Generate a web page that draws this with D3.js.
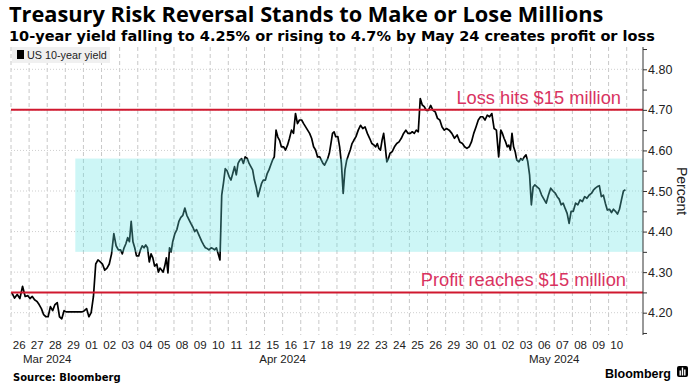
<!DOCTYPE html>
<html>
<head>
<meta charset="utf-8">
<script src="https://cdn.jsdelivr.net/npm/d3@7"></script>
<style>
body { margin: 0; background: #fff; }
svg { display: block; font-family: "Liberation Sans", Arial, sans-serif; }
</style>
</head>
<body>
<div id="container"></div>
<script>
var width = 695, height = 388;

// trading days shown on the axis
var dayLabels = ["26","27","28","29","01","02","03","04","05","08","09","10","11","12","15","16","17","18","19",
	"22","23","24","25","26","29","30","01","02","03","06","07","08","09","10"];
var months = [
	{label: "Mar 2024", first: 0, last: 3},
	{label: "Apr 2024", first: 4, last: 25},
	{label: "May 2024", first: 26, last: 33}
];

// intraday readings of the US 10-year yield, one list per trading day
var yields = [
	[4.249, 4.236, 4.245, 4.235, 4.265, 4.24, 4.242],
	[4.235, 4.24, 4.232, 4.228, 4.22, 4.21, 4.195, 4.19],
	[4.19, 4.215, 4.205, 4.22, 4.225, 4.19, 4.185, 4.205],
	[4.202, 4.202],
	[4.205, 4.21, 4.19, 4.20, 4.24, 4.32, 4.33, 4.325],
	[4.32, 4.305, 4.31, 4.32, 4.345, 4.395, 4.365, 4.355],
	[4.355, 4.345, 4.36, 4.37, 4.385, 4.375, 4.425, 4.375, 4.36, 4.34],
	[4.34, 4.355, 4.365, 4.36, 4.367, 4.36, 4.325, 4.345, 4.335, 4.315],
	[4.32, 4.30, 4.31, 4.305, 4.30, 4.315, 4.335, 4.298, 4.36, 4.35, 4.375],
	[4.395, 4.405, 4.425, 4.435, 4.44, 4.458, 4.44, 4.43, 4.42],
	[4.41, 4.40, 4.405, 4.395, 4.385, 4.375, 4.367, 4.36, 4.358, 4.355],
	[4.36, 4.358, 4.355, 4.36, 4.345, 4.33, 4.49, 4.52, 4.555, 4.55],
	[4.535, 4.527, 4.543, 4.56, 4.54, 4.568, 4.576, 4.58, 4.568, 4.584],
	[4.58, 4.568, 4.56, 4.552, 4.527, 4.51, 4.486, 4.502, 4.518, 4.527],
	[4.527, 4.543, 4.552, 4.564, 4.576, 4.584, 4.65, 4.633, 4.625, 4.609],
	[4.609, 4.601, 4.613, 4.63, 4.65, 4.642, 4.691, 4.666, 4.675],
	[4.675, 4.666, 4.658, 4.65, 4.642, 4.63, 4.609, 4.601, 4.584],
	[4.584, 4.576, 4.568, 4.564, 4.572, 4.58, 4.593, 4.617, 4.642, 4.646, 4.634],
	[4.634, 4.609, 4.568, 4.494, 4.552, 4.576, 4.589, 4.601, 4.617, 4.625],
	[4.634, 4.65, 4.662, 4.654, 4.658, 4.642, 4.63, 4.617],
	[4.613, 4.609, 4.617, 4.605, 4.601, 4.625, 4.642, 4.609, 4.572, 4.58, 4.593],
	[4.597, 4.609, 4.617, 4.621, 4.63, 4.642, 4.65, 4.642],
	[4.642, 4.646, 4.642, 4.65, 4.646, 4.728, 4.712, 4.708, 4.699],
	[4.699, 4.711, 4.699, 4.695, 4.679, 4.675, 4.658, 4.65],
	[4.654, 4.65, 4.642, 4.63, 4.638, 4.621, 4.617],
	[4.609, 4.605, 4.609, 4.621, 4.642, 4.658, 4.675, 4.683],
	[4.683, 4.675, 4.687, 4.683, 4.691, 4.654, 4.65, 4.584],
	[4.65, 4.642, 4.63, 4.621, 4.609, 4.613, 4.601, 4.642, 4.609, 4.597, 4.576],
	[4.572, 4.58, 4.576, 4.584, 4.589, 4.572, 4.54, 4.466, 4.51, 4.515],
	[4.51, 4.505, 4.49, 4.48, 4.47, 4.49, 4.507, 4.50],
	[4.495, 4.486, 4.48, 4.466, 4.47, 4.457, 4.445, 4.42, 4.45],
	[4.45, 4.47, 4.466, 4.478, 4.474, 4.486, 4.482, 4.49],
	[4.494, 4.502, 4.507, 4.511, 4.513, 4.486, 4.49, 4.47, 4.453],
	[4.455, 4.447, 4.455, 4.45, 4.443, 4.455, 4.478, 4.50, 4.503]
];

var yTicks = [4.2, 4.3, 4.4, 4.5, 4.6, 4.7, 4.8];
var levels = [
	{value: 4.70, label: "Loss hits $15 million"},
	{value: 4.25, label: "Profit reaches $15 million"}
];
var zone = {low: 4.35, high: 4.58, start: 3.55};

var xScale = d3.scaleLinear().domain([0, 34.9]).range([11, 643]);
var yScale = d3.scaleLinear().domain([4.145, 4.855]).range([335, 47]);
var plotTop = 47, plotBottom = 335, plotLeft = 11, plotRight = 643;

var points = [];
yields.forEach(function(day, i){
	day.forEach(function(v, j){
		points.push({x: i + 0.05 + 0.88 * j / Math.max(day.length - 1, 1), y: v});
	});
});

var line = d3.line()
	.x(function(d){ return xScale(d.x); })
	.y(function(d){ return yScale(d.y); });

// shrink or grow a text's font so it spans the wanted width
var fitText = function(sel, w){
	var size = +sel.attr('font-size');
	var len = sel.node().getComputedTextLength();
	sel.attr('font-size', size * w / len);
};

function visualize() {
	var svg = d3.select('#container').append('svg')
		.attr('width', width)
		.attr('height', height);

	svg.append('text').attr('x', 9).attr('y', 22)
		.attr('font-family', '"Open Sans", sans-serif')
		.attr('font-size', 21).attr('font-weight', 'bold').attr('fill', '#000')
		.text('Treasury Risk Reversal Stands to Make or Lose Millions')
		.call(fitText, 595);
	svg.append('text').attr('x', 9).attr('y', 41)
		.attr('font-family', '"DejaVu Sans", Verdana, sans-serif')
		.attr('font-size', 15).attr('font-weight', 'bold').attr('fill', '#000')
		.text('10-year yield falling to 4.25% or rising to 4.7% by May 24 creates profit or loss')
		.call(fitText, 646);

	// vertical dashed grid, one per trading day
	svg.append('g').selectAll('line').data(d3.range(0, 35)).enter()
		.append('line')
		.attr('x1', function(d){ return xScale(d); })
		.attr('x2', function(d){ return xScale(d); })
		.attr('y1', plotTop).attr('y2', plotBottom)
		.attr('stroke', '#c8c8c8').attr('stroke-dasharray', '4,3');

	// horizontal dotted grid
	svg.append('g').selectAll('line').data(yTicks).enter()
		.append('line')
		.attr('x1', plotLeft).attr('x2', plotRight)
		.attr('y1', function(d){ return yScale(d); })
		.attr('y2', function(d){ return yScale(d); })
		.attr('stroke', '#cfcfcf').attr('stroke-dasharray', '1,2');

	svg.append('path')
		.attr('d', line(points))
		.attr('stroke', '#000')
		.attr('stroke-width', 1.7)
		.attr('stroke-linejoin', 'round')
		.attr('fill', 'none');

	svg.append('rect')
		.attr('x', xScale(zone.start))
		.attr('y', yScale(zone.high))
		.attr('width', plotRight - xScale(zone.start))
		.attr('height', yScale(zone.low) - yScale(zone.high))
		.attr('fill', 'rgb(100,226,226)')
		.attr('fill-opacity', 0.32);

	var lv = svg.append('g').selectAll('g').data(levels).enter().append('g');
	lv.append('line')
		.attr('x1', plotLeft).attr('x2', plotRight)
		.attr('y1', function(d){ return yScale(d.value); })
		.attr('y2', function(d){ return yScale(d.value); })
		.attr('stroke', '#d0182f').attr('stroke-width', 2);
	lv.append('text')
		.attr('x', function(d, i){ return i ? 626 : 621; })
		.attr('y', function(d){ return yScale(d.value) - 6; })
		.attr('text-anchor', 'end')
		.attr('font-size', 18.3)
		.attr('fill', '#d93361')
		.text(function(d){ return d.label; });

	// right axis with minor ticks
	var minor = d3.axisRight(yScale)
		.tickValues([4.15, 4.25, 4.35, 4.45, 4.55, 4.65, 4.75, 4.85])
		.tickSize(4).tickFormat('');
	svg.append('g').attr('transform', 'translate(' + plotRight + ',0)').call(minor)
		.call(function(g){ g.select('.domain').attr('d', 'M0,' + plotTop + 'V' + plotBottom); });
	var yAxis = d3.axisRight(yScale).tickValues(yTicks).tickSize(4).tickPadding(1)
		.tickFormat(d3.format('.2f'));
	var ya = svg.append('g').attr('transform', 'translate(' + plotRight + ',0)').call(yAxis);
	ya.select('.domain').remove();
	ya.selectAll('text').attr('font-size', 12.5).attr('fill', '#222')
		.attr('font-family', '"Liberation Sans", Arial, sans-serif');
	svg.selectAll('.tick line').attr('stroke', '#333');
	svg.selectAll('.domain').attr('stroke', '#333');

	svg.append('text')
		.attr('transform', 'translate(677,191) rotate(90)')
		.attr('text-anchor', 'middle')
		.attr('font-size', 14).attr('fill', '#222')
		.text('Percent');

	// x labels
	svg.append('g').selectAll('text').data(dayLabels).enter()
		.append('text')
		.attr('x', function(d, i){ return xScale(i + 0.45); })
		.attr('y', 349)
		.attr('text-anchor', 'middle')
		.attr('font-size', 11.5).attr('fill', '#222')
		.text(function(d){ return d; });
	svg.append('g').selectAll('text').data(months).enter()
		.append('text')
		.attr('x', function(d){ return xScale((d.first + d.last + 1) / 2); })
		.attr('y', 363)
		.attr('text-anchor', 'middle')
		.attr('font-size', 11.5).attr('fill', '#222')
		.text(function(d){ return d.label; });

	// legend
	svg.append('rect').attr('x', 12).attr('y', 47).attr('width', 98).attr('height', 16).attr('fill', '#f0f0f0');
	svg.append('rect').attr('x', 17).attr('y', 50).attr('width', 7).attr('height', 9).attr('fill', '#000');
	svg.append('text').attr('x', 27).attr('y', 59).attr('font-size', 10.8).attr('fill', '#222')
		.text('US 10-year yield');

	svg.append('text').attr('x', 13).attr('y', 381)
		.attr('font-family', '"DejaVu Sans", Verdana, sans-serif')
		.attr('font-size', 10).attr('font-weight', 'bold').attr('fill', '#000')
		.text('Source: Bloomberg');

	svg.append('text').attr('x', 605).attr('y', 378)
		.attr('font-size', 15).attr('font-weight', 'bold').attr('fill', '#000')
		.text('Bloomberg')
		.call(fitText, 66);
	var logo = svg.append('g').attr('transform', 'translate(677,366)');
	logo.append('rect').attr('width', 11).attr('height', 11).attr('rx', 2).attr('fill', '#000');
	logo.selectAll('.bar').data([5, 8, 6]).enter().append('rect')
		.attr('x', function(d, i){ return 2.5 + i * 2.3; })
		.attr('y', function(d){ return 9.5 - d; })
		.attr('width', 1.4)
		.attr('height', function(d){ return d; })
		.attr('fill', '#fff');
}

window.onload = visualize;
</script>
</body>
</html>
